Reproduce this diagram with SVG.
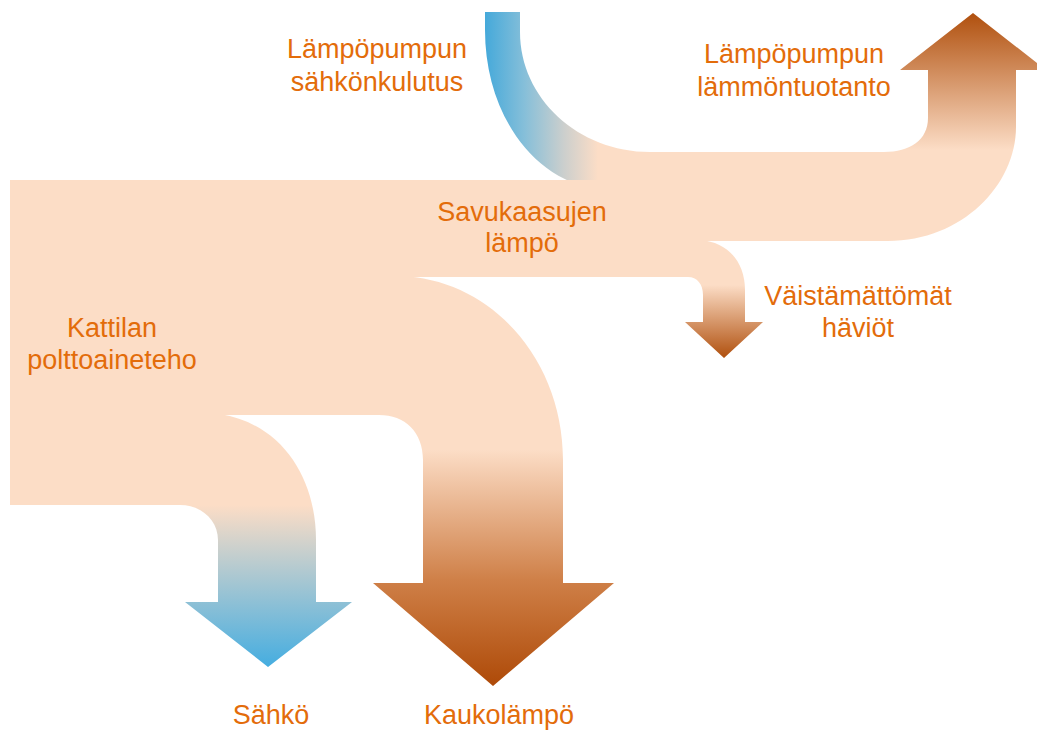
<svg xmlns="http://www.w3.org/2000/svg" width="1037" height="731" viewBox="0 0 1037 731">
<style>
.lbl{font-family:"Liberation Sans",Arial,sans-serif;font-size:27px;fill:#E36C0A;text-anchor:middle}
.peach{fill:#FCDDC6}
</style>
<defs>
<linearGradient id="gElec" gradientUnits="userSpaceOnUse" x1="485" y1="0" x2="598" y2="0">
<stop offset="0" stop-color="#45A9DA"/>
<stop offset="0.35" stop-color="#86BFD9"/>
<stop offset="0.7" stop-color="#CCCFCD"/>
<stop offset="1" stop-color="#FCDDC6"/>
</linearGradient>
<linearGradient id="gOut" gradientUnits="userSpaceOnUse" x1="0" y1="150" x2="0" y2="13">
<stop offset="0" stop-color="#FCDDC6"/>
<stop offset="1" stop-color="#B0500E"/>
</linearGradient>
<linearGradient id="gLoss" gradientUnits="userSpaceOnUse" x1="0" y1="285" x2="0" y2="358">
<stop offset="0" stop-color="#FCDDC6"/>
<stop offset="1" stop-color="#B0500E"/>
</linearGradient>
<linearGradient id="gDH" gradientUnits="userSpaceOnUse" x1="0" y1="450" x2="0" y2="686">
<stop offset="0" stop-color="#FCDDC6"/>
<stop offset="0.55" stop-color="#CF8048"/>
<stop offset="1" stop-color="#AE4A08"/>
</linearGradient>
<linearGradient id="gEl" gradientUnits="userSpaceOnUse" x1="0" y1="505" x2="0" y2="667">
<stop offset="0" stop-color="#FCDDC6"/>
<stop offset="1" stop-color="#45ADE0"/>
</linearGradient>
</defs>
<g id="connectors">
<path id="flow-hp-elec" fill="url(#gElec)" d="M485,12 H520 V32 C520,98 578,152 650,152 V190 H600 C530,180 485,110 485,30 Z"/>
<rect id="flue-band" class="peach" x="10" y="180" width="692" height="97"/>
<rect id="input-block" class="peach" x="10" y="180" width="212" height="325"/>
<path id="flow-kaukolampo" fill="url(#gDH)" d="M200,276 H400 C492,279 563,360 563,460 V583 H614 L493,686 L373,583 H423 V460 C423,432 405,415 379,415 H200 Z"/>
<path id="flow-sahko" fill="url(#gEl)" d="M10,414 H220 C282,424 316,478 316,540 V602 H352 L268,667 L185,602 H218 V540 C218,520 201,505 180,505 H10 Z"/>
<path id="flow-losses" fill="url(#gLoss)" d="M600,240 H700 C728,242 745,262 745,290 V322 H763 L724,358 L685,322 H703 V295 C703,284 697,277 688,277 H600 Z"/>
<path id="flow-hp-out" fill="url(#gOut)" d="M602,152 H884 C910,152 928,140 928,118 V70 H900 L973,13 L1046,70 H1016 V127 C1016,185 962,241 888,241 H602 Z"/>
</g>
<g id="node-hp-elec"><text class="lbl" x="377" y="58">Lämpöpumpun</text><text class="lbl" x="377" y="91">sähkönkulutus</text></g>
<g id="node-hp-out"><text class="lbl" x="794" y="63">Lämpöpumpun</text><text class="lbl" x="794" y="96">lämmöntuotanto</text></g>
<g id="node-flue"><text class="lbl" x="522" y="221">Savukaasujen</text><text class="lbl" x="522" y="252">lämpö</text></g>
<g id="node-losses"><text class="lbl" x="858" y="305">Väistämättömät</text><text class="lbl" x="858" y="337">häviöt</text></g>
<g id="node-fuel"><text class="lbl" x="112" y="337">Kattilan</text><text class="lbl" x="112" y="369">polttoaineteho</text></g>
<g id="node-sahko"><text class="lbl" x="271" y="724">Sähkö</text></g>
<g id="node-kaukolampo"><text class="lbl" x="499" y="724">Kaukolämpö</text></g>
</svg>
